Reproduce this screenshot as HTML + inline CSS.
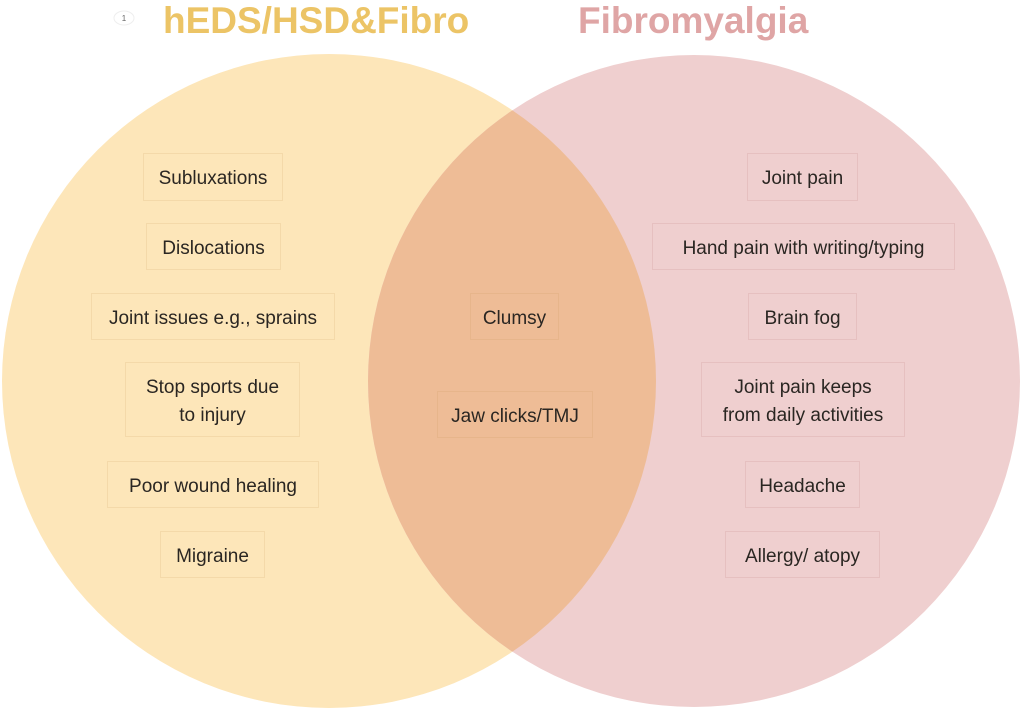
<!DOCTYPE html>
<html><head><meta charset="utf-8"><style>
body{margin:0;width:1024px;height:713px;background:#fff;position:relative;overflow:hidden;font-family:"Liberation Sans","DejaVu Sans",sans-serif}
svg{position:absolute;left:0;top:0}
.b{position:absolute;box-sizing:border-box;border:1.5px solid rgba(200,150,90,0.16);display:flex;align-items:center;justify-content:center;text-align:center;font-size:19px;color:#2a2622;line-height:28px;white-space:nowrap;padding-top:4px}
.r{border-color:rgba(190,130,130,0.18)}
.t{position:absolute;top:0px;font-size:37px;font-weight:bold;white-space:nowrap}
</style></head><body>
<svg width="1024" height="713">
<defs><clipPath id="c"><circle cx="329" cy="381" r="327"/></clipPath></defs>
<circle cx="329" cy="381" r="327" fill="#fde6b9"/>
<circle cx="694" cy="381" r="326" fill="#efcfcf"/>
<circle cx="694" cy="381" r="326" fill="#eebc96" clip-path="url(#c)"/>
<ellipse cx="124" cy="18" rx="10" ry="7" fill="#fff" stroke="#eee"/>
<text x="124" y="21" font-size="8" text-anchor="middle" fill="#666" font-family="Liberation Sans">1</text>
</svg>
<div class="t" style="left:163px;color:#ecc466">hEDS/HSD&amp;Fibro</div>
<div class="t" style="left:578px;color:#dfa5a5">Fibromyalgia</div>

<div class="b" style="left:143px;top:153px;width:140px;height:48px">Subluxations</div>
<div class="b" style="left:146px;top:223px;width:135px;height:47px">Dislocations</div>
<div class="b" style="left:91px;top:293px;width:244px;height:47px">Joint issues e.g., sprains</div>
<div class="b" style="left:125px;top:362px;width:175px;height:75px">Stop sports due<br>to injury</div>
<div class="b" style="left:107px;top:461px;width:212px;height:47px">Poor wound healing</div>
<div class="b" style="left:160px;top:531px;width:105px;height:47px">Migraine</div>

<div class="b" style="left:470px;top:293px;width:89px;height:47px">Clumsy</div>
<div class="b" style="left:437px;top:391px;width:156px;height:47px">Jaw clicks/TMJ</div>

<div class="b r" style="left:747px;top:153px;width:111px;height:48px">Joint pain</div>
<div class="b r" style="left:652px;top:223px;width:303px;height:47px">Hand pain with writing/typing</div>
<div class="b r" style="left:748px;top:293px;width:109px;height:47px">Brain fog</div>
<div class="b r" style="left:701px;top:362px;width:204px;height:75px">Joint pain keeps<br>from daily activities</div>
<div class="b r" style="left:745px;top:461px;width:115px;height:47px">Headache</div>
<div class="b r" style="left:725px;top:531px;width:155px;height:47px">Allergy/ atopy</div>
</body></html>
